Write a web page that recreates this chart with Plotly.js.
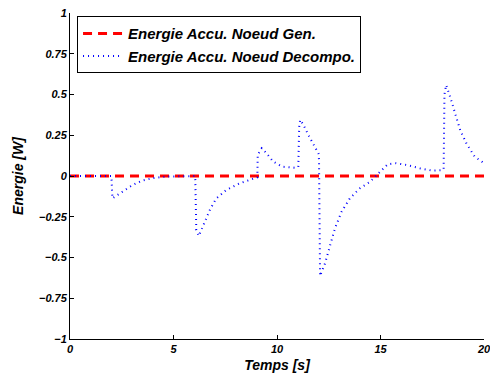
<!DOCTYPE html>
<html>
<head>
<meta charset="utf-8">
<script src="https://cdn.plot.ly/plotly-3.0.1.min.js"></script>
<style>html,body{margin:0;padding:0;background:#fff;}#chart{width:490px;height:381px;}</style>
</head>
<body>
<div id="chart"></div>
<script>
// Data
const seriesNames = ["Energie Accu. Noeud Gen.", "Energie Accu. Noeud Decompo."];
const genTime = [0, 20];
const genEnergy = [0, 0];
const decTime = [0, 2.0, 2.05, 2.5, 3.0, 3.5, 4.0, 4.6, 5.5, 6.05, 6.1, 6.22, 6.45, 6.75, 7.05, 7.55, 8.2, 8.85,
  9.05, 9.07, 9.26, 9.5, 9.82, 10.25, 10.8, 11.03, 11.07, 11.12, 11.28, 11.52, 11.76, 12.0, 12.03, 12.08, 12.32,
  12.56, 12.8, 13.12, 13.52, 14.0, 14.5, 14.9, 15.35, 15.75, 16.3, 16.9, 17.5, 17.95, 18.05, 18.09, 18.17, 18.36,
  18.6, 18.85, 19.15, 19.55, 19.9, 20];
const decEnergy = [0, 0, -0.137, -0.100, -0.057, -0.028, -0.013, -0.004, 0, 0, -0.33, -0.368, -0.300, -0.210,
  -0.140, -0.086, -0.045, -0.014, -0.008, 0.13, 0.17, 0.139, 0.088, 0.057, 0.051, 0.055, 0.30, 0.344, 0.313, 0.25,
  0.19, 0.139, 0.10, -0.613, -0.536, -0.423, -0.321, -0.219, -0.137, -0.076, -0.035, 0.016, 0.072, 0.078, 0.067,
  0.047, 0.033, 0.035, 0.04, 0.50, 0.558, 0.487, 0.385, 0.282, 0.20, 0.118, 0.088, 0.075];
const xTicks = [0, 5, 10, 15, 20];
const yTicks = [-1, -0.75, -0.5, -0.25, 0, 0.25, 0.5, 0.75, 1];
const yTickText = ["\u22121", "\u22120.75", "\u22120.5", "\u22120.25", "0", "0.25", "0.5", "0.75", "1"];

const FONT = "Liberation Sans, Arial, Helvetica, sans-serif";
const tickFont = {family: FONT, size: 11, color: "#000", weight: "bold", style: "italic"};

const traces = [
  {x: genTime, y: genEnergy, name: seriesNames[0], type: "scatter", mode: "lines",
   line: {color: "#ff0000", width: 3, dash: "9px,6px"}},
  {x: decTime, y: decEnergy, name: seriesNames[1], type: "scatter", mode: "lines",
   line: {color: "#0000ff", width: 2, dash: "1px,4px"}}
];

const layout = {
  width: 490, height: 381,
  margin: {l: 70, r: 6, t: 13, b: 42},
  paper_bgcolor: "#fff", plot_bgcolor: "#fff",
  showlegend: true,
  legend: {x: 0.017, y: 0.99, xanchor: "left", yanchor: "top",
    bgcolor: "#fff", bordercolor: "#000", borderwidth: 1,
    font: {family: FONT, size: 15, color: "#000", weight: "bold", style: "italic"},
    itemwidth: 40, tracegroupgap: 0},
  xaxis: {range: [0, 20], tickmode: "array", tickvals: xTicks, ticktext: xTicks.map(String),
    ticks: "inside", ticklen: 4, tickcolor: "#000", showline: true, linecolor: "#000", linewidth: 1,
    showgrid: false, zeroline: false, mirror: false, tickfont: tickFont, ticklabeloverflow: "allow",
    title: {text: "Temps [s]", standoff: 5, font: {family: FONT, size: 14, color: "#000", weight: "bold", style: "italic"}}},
  yaxis: {range: [-1, 1], tickmode: "array", tickvals: yTicks, ticktext: yTickText,
    ticks: "inside", ticklen: 4, tickcolor: "#000", showline: true, linecolor: "#000", linewidth: 1,
    showgrid: false, zeroline: false, mirror: false, tickfont: tickFont, ticklabeloverflow: "allow",
    title: {text: "Energie [W]", standoff: 12, font: {family: FONT, size: 14, color: "#000", weight: "bold", style: "italic"}}}
};

Plotly.newPlot("chart", traces, layout, {staticPlot: true, displayModeBar: false});
</script>
</body>
</html>
